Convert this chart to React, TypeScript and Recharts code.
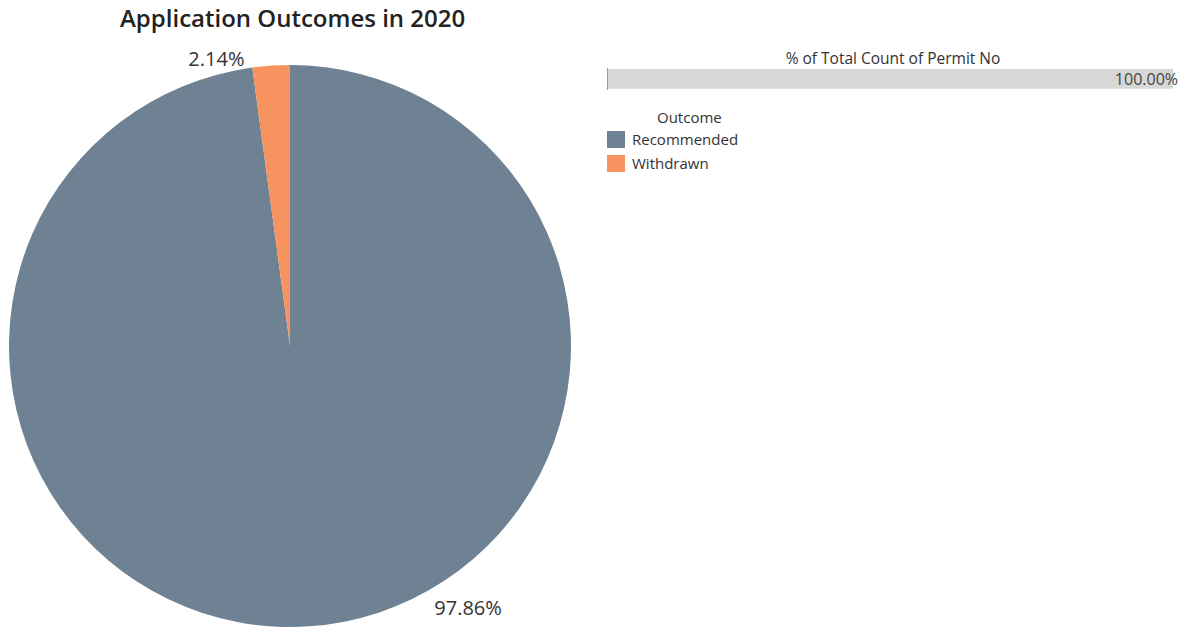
import { Bar, BarChart, Cell, LabelList, Pie, PieChart, ReferenceLine, XAxis, YAxis } from 'recharts';

const outcomes = ['Recommended', 'Withdrawn'];
const shares = [97.86, 2.14];
const colors = ['#6e8294', '#f7935f'];
const totalShare = [{ name: 'All', value: 100 }];

const pieData = outcomes.map((name, i) => ({ name, value: shares[i] }));

const RADIAN = Math.PI / 180;
// tableau-ish label spots: angle + distance past the rim
const labelSpots = [
  { angle: -55.7, extra: 35, anchor: 'middle' },
  { angle: 99, extra: 10, anchor: 'end' },
];

const FONT = '"Open Sans", "Noto Sans", sans-serif';

function renderLabel(props: any) {
  const { cx, cy, outerRadius, index } = props;
  const spot = labelSpots[index];
  const r = outerRadius + spot.extra;
  const x = cx + r * Math.cos(-spot.angle * RADIAN);
  const y = cy + r * Math.sin(-spot.angle * RADIAN);
  return (
    <text x={x} y={y} textAnchor={spot.anchor} dominantBaseline="central" fill="#333" fontSize={20} fontFamily={FONT}>
      {shares[index].toFixed(2)}%
    </text>
  );
}

function OutcomeLegend() {
  return (
    <div style={{ fontFamily: FONT, fontSize: 15, color: '#333' }}>
      <div style={{ marginLeft: 50, lineHeight: '20px' }}>Outcome</div>
      {outcomes.map((name, i) => (
        <div key={name} style={{ display: 'flex', alignItems: 'center', height: 24 }}>
          <span style={{ width: 18, height: 17, background: colors[i], display: 'inline-block', marginRight: 7 }} />
          <span>{name}</span>
        </div>
      ))}
    </div>
  );
}

export default function App() {
  return (
    <div style={{ position: 'absolute', left: 0, top: 0, width: 1180, height: 628, background: '#fff', fontFamily: FONT }}>
      <div style={{ position: 'absolute', left: 120, top: 1, fontSize: 24, fontWeight: 600, color: '#222' }}>
        Application Outcomes in 2020
      </div>
      <PieChart width={600} height={628} margin={{ top: 0, right: 0, bottom: 0, left: 0 }} style={{ position: 'absolute', left: 0, top: 0 }}>
        <Pie
          data={pieData}
          dataKey="value"
          nameKey="name"
          cx={290}
          cy={346}
          outerRadius={281}
          startAngle={90}
          endAngle={-270}
          stroke="none"
          label={renderLabel}
          labelLine={false}
          isAnimationActive={false}
        >
          {pieData.map((d, i) => (
            <Cell key={d.name} fill={colors[i]} />
          ))}
        </Pie>
      </PieChart>
      <div style={{ position: 'absolute', left: 607, top: 107, width: 220 }}>
        <OutcomeLegend />
      </div>
      <div style={{ position: 'absolute', left: 607, top: 47, width: 572, textAlign: 'center', fontSize: 15.5, color: '#333' }}>
        % of Total Count of Permit No
      </div>
      <BarChart
        width={572}
        height={22}
        data={totalShare}
        layout="vertical"
        margin={{ top: 0, right: 6, bottom: 0, left: 0 }}
        style={{ position: 'absolute', left: 607, top: 68 }}
      >
        <XAxis type="number" domain={[0, 100]} hide />
        <YAxis type="category" dataKey="name" hide />
        <Bar dataKey="value" fill="#d7d7d7" barSize={22} isAnimationActive={false}>
          <LabelList
            dataKey="value"
            position="insideRight"
            offset={-5}
            formatter={(v: any) => `${Number(v).toFixed(2)}%`}
            style={{ fill: '#444', fontSize: 16, fontFamily: FONT }}
          />
        </Bar>
        <ReferenceLine x={0} stroke="#9a9a9a" strokeWidth={2} ifOverflow="extendDomain" />
      </BarChart>
    </div>
  );
}
